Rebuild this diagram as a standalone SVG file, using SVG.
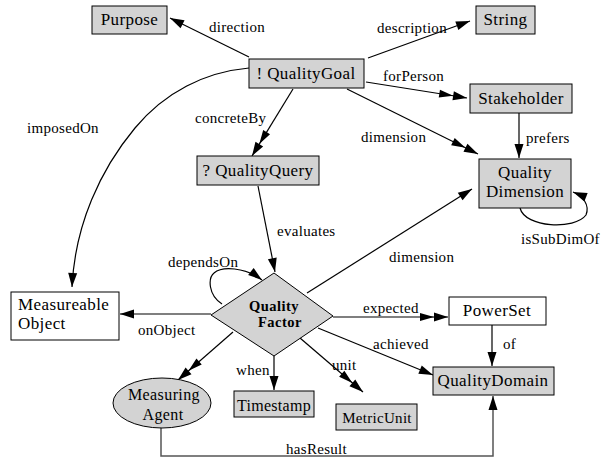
<svg xmlns="http://www.w3.org/2000/svg" width="601" height="460" viewBox="0 0 601 460">
<style>
.bg{fill:#ffffff}
.n{fill:#d3d3d3;stroke:#000;stroke-width:1}
.w{fill:#ffffff;stroke:#000;stroke-width:1}
.nt{font-family:"Liberation Serif","Times New Roman",serif;font-size:17px;letter-spacing:0.4px;fill:#000}
.st{font-family:"Liberation Serif","Times New Roman",serif;font-size:15px;letter-spacing:0.3px;fill:#000}
.bt{font-family:"Liberation Serif","Times New Roman",serif;font-size:14.5px;font-weight:bold;letter-spacing:0.5px;fill:#000}
.e{fill:none;stroke:#000;stroke-width:1.2}
.g{fill:none;stroke:#555;stroke-width:1.5}
.l{font-family:"Liberation Serif","Times New Roman",serif;font-size:15px;letter-spacing:0.3px;fill:#000}
</style>
<defs>
<marker id="a" markerUnits="userSpaceOnUse" markerWidth="15" markerHeight="10" refX="14" refY="5" orient="auto" overflow="visible"><path d="M0,0.5 L14,5 L0,9.5 z" fill="#000"/></marker>
<marker id="d" markerUnits="userSpaceOnUse" markerWidth="29" markerHeight="10" refX="28" refY="5" orient="auto" overflow="visible"><path d="M0,1 L14,5 L0,9 z M14,0.5 L28,5 L14,9.5 z" fill="#000"/></marker>
</defs>
<rect class="bg" x="0" y="0" width="601" height="460"/>
<g id="connectors">
<path class="e" d="M249,57 L170,18" marker-end="url(#a)"/>
<path class="e" d="M368,58 L470,21" marker-end="url(#a)"/>
<path class="e" d="M366,82 L467,98" marker-end="url(#d)"/>
<path class="e" d="M347,89 L478,154" marker-end="url(#d)"/>
<path class="e" d="M519,113 L519,158" marker-end="url(#a)"/>
<path class="e" d="M293,89 L252,156" marker-end="url(#d)"/>
<path class="e" d="M249,68 C205,72 165,92 135,128 C100,170 75,225 72,287" marker-end="url(#a)"/>
<path class="e" d="M258,186 L275,272" marker-end="url(#a)"/>
<path class="e" d="M222,304 C208,295 208,278 214,273 C222,266 245,267 262,280" marker-end="url(#a)"/>
<path class="e" d="M307,293 L472,189" marker-end="url(#a)"/>
<path class="e" d="M520,208 C525,228 575,230 586,215 C590,205 583,196 573,192" marker-end="url(#a)"/>
<path class="g" d="M211,314 L120,314" marker-end="url(#a)"/>
<path class="e" d="M233,332 L178,380" marker-end="url(#d)"/>
<path class="e" d="M274,356 L274,390" marker-end="url(#a)"/>
<path class="e" d="M300,338 L363,392" marker-end="url(#d)"/>
<path class="e" d="M333,317 L448,317" marker-end="url(#d)"/>
<path class="e" d="M318,328 L433,375" marker-end="url(#a)"/>
<path class="e" d="M492,325 L492,366" marker-end="url(#a)"/>
<path class="g" d="M161,427 L161,456 L493,456 L493,396" marker-end="url(#a)"/>
<text class="l" x="209" y="32">direction</text>
<text class="l" x="377" y="33">description</text>
<text class="l" x="383" y="81">forPerson</text>
<text class="l" x="361" y="142">dimension</text>
<text class="l" x="526" y="143">prefers</text>
<text class="l" x="195" y="123">concreteBy</text>
<text class="l" x="27" y="133">imposedOn</text>
<text class="l" x="277" y="236">evaluates</text>
<text class="l" x="168" y="267">dependsOn</text>
<text class="l" x="389" y="262">dimension</text>
<text class="l" x="521" y="244">isSubDimOf</text>
<text class="l" x="138" y="335">onObject</text>
<text class="l" x="236" y="375">when</text>
<text class="l" x="332" y="370">unit</text>
<text class="l" x="363" y="313">expected</text>
<text class="l" x="373" y="349">achieved</text>
<text class="l" x="503" y="349">of</text>
<text class="l" x="286" y="454">hasResult</text>
</g>
<g id="Purpose"><rect class="n" x="92" y="6" width="75" height="28"/><text class="nt" x="129.5" y="25" text-anchor="middle">Purpose</text></g>
<g id="String"><rect class="n" x="476" y="6" width="59" height="28"/><text class="nt" x="505.5" y="25" text-anchor="middle">String</text></g>
<g id="QualityGoal"><rect class="n" x="249" y="59" width="115" height="29"/><text class="nt" x="306" y="79" text-anchor="middle">! QualityGoal</text></g>
<g id="Stakeholder"><rect class="n" x="470" y="84" width="102" height="29"/><text class="nt" x="521" y="104" text-anchor="middle">Stakeholder</text></g>
<g id="QualityQuery"><rect class="n" x="197" y="156" width="122" height="29"/><text class="nt" x="258" y="176" text-anchor="middle">? QualityQuery</text></g>
<g id="QualityDimension"><rect class="n" x="479" y="159" width="92" height="49"/><text class="nt" x="525" y="178" text-anchor="middle">Quality</text><text class="nt" x="525" y="197" text-anchor="middle">Dimension</text></g>
<g id="QualityFactor"><polygon class="n" points="274,273 333,316 274,356 211,315"/><text class="bt" x="274" y="311" text-anchor="middle">Quality</text><text class="bt" x="280" y="327" text-anchor="middle">Factor</text></g>
<g id="MeasureableObject"><rect class="w" x="11" y="292" width="108" height="48"/><text class="nt" x="18" y="310">Measureable</text><text class="nt" x="18" y="329">Object</text></g>
<g id="MeasuringAgent"><ellipse class="n" cx="162" cy="403" rx="49" ry="25"/><text class="nt" x="164" y="400" text-anchor="middle" style="font-size:16px">Measuring</text><text class="nt" x="163" y="420" text-anchor="middle" style="font-size:16px">Agent</text></g>
<g id="Timestamp"><rect class="n" x="234" y="391" width="80" height="26"/><text class="st" x="274" y="411" text-anchor="middle" style="font-size:16px">Timestamp</text></g>
<g id="MetricUnit"><rect class="n" x="336" y="404" width="81" height="26"/><text class="st" x="377" y="423" text-anchor="middle">MetricUnit</text></g>
<g id="PowerSet"><rect class="w" x="449" y="297" width="97" height="28"/><text class="nt" x="497" y="316" text-anchor="middle">PowerSet</text></g>
<g id="QualityDomain"><rect class="n" x="433" y="367" width="121" height="28"/><text class="nt" x="493" y="386" text-anchor="middle">QualityDomain</text></g>
</svg>
